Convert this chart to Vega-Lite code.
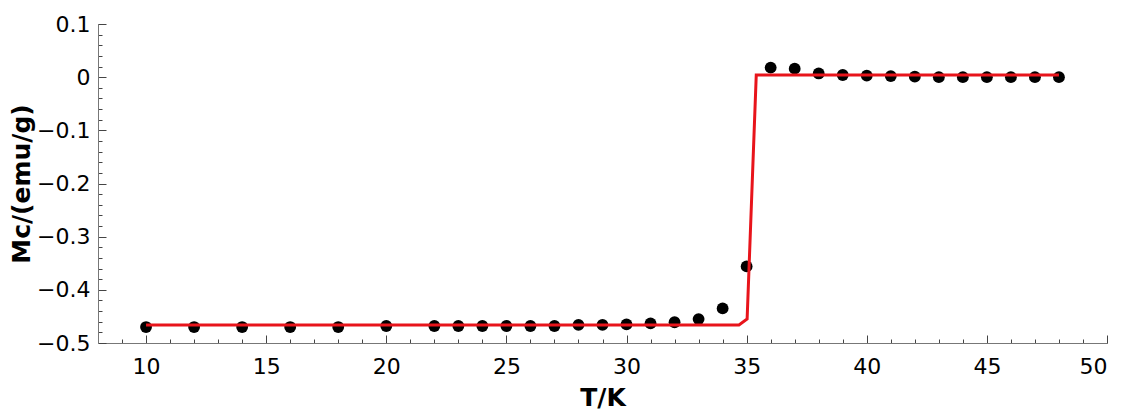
{
  "$schema": "https://vega.github.io/schema/vega-lite/v6.json",
  "width": 1009,
  "height": 319,
  "autosize": {"type": "none"},
  "padding": {"left": 98, "top": 24, "right": 19, "bottom": 67},
  "background": "white",
  "config": {
    "view": {"stroke": null},
    "font": "DejaVu Sans",
    "locale": {"number": {"decimal": ".", "thousands": ",", "grouping": [3], "currency": ["$", ""], "minus": "\u2212"}},
    "axis": {"grid": false, "domainColor": "#777777", "tickColor": "#444444", "labelColor": "black", "labelFont": "DejaVu Sans", "labelFontSize": 22, "titleFont": "DejaVu Sans", "titleFontSize": 25, "titleFontWeight": "bold", "titleColor": "black"}
  },
  "datasets": {
    "pts": [
      {"T": 10, "M": -0.470}, {"T": 12, "M": -0.470}, {"T": 14, "M": -0.470}, {"T": 16, "M": -0.470},
      {"T": 18, "M": -0.470}, {"T": 20, "M": -0.468}, {"T": 22, "M": -0.468}, {"T": 23, "M": -0.468},
      {"T": 24, "M": -0.468}, {"T": 25, "M": -0.468}, {"T": 26, "M": -0.468}, {"T": 27, "M": -0.468},
      {"T": 28, "M": -0.466}, {"T": 29, "M": -0.466}, {"T": 30, "M": -0.465}, {"T": 31, "M": -0.463},
      {"T": 32, "M": -0.461}, {"T": 33, "M": -0.455}, {"T": 34, "M": -0.435}, {"T": 35, "M": -0.356},
      {"T": 36, "M": 0.018}, {"T": 37, "M": 0.016}, {"T": 38, "M": 0.007}, {"T": 39, "M": 0.004},
      {"T": 40, "M": 0.003}, {"T": 41, "M": 0.002}, {"T": 42, "M": 0.001}, {"T": 43, "M": 0.0},
      {"T": 44, "M": 0.0}, {"T": 45, "M": 0.0}, {"T": 46, "M": 0.0}, {"T": 47, "M": 0.0}, {"T": 48, "M": 0.0}
    ],
    "fit": [
      {"T": 10, "M": -0.466}, {"T": 34.68, "M": -0.466}, {"T": 35.02, "M": -0.455},
      {"T": 35.4, "M": 0.004}, {"T": 48, "M": 0.004}
    ]
  },
  "resolve": {"axis": {"x": "independent", "y": "independent"}},
  "layer": [
    {
      "data": {"name": "pts"},
      "mark": {"type": "point", "filled": true, "color": "black", "opacity": 1, "size": 140},
      "encoding": {
        "x": {"field": "T", "type": "quantitative", "scale": {"domain": [8, 50], "nice": false, "zero": false},
          "axis": {"orient": "bottom", "values": [9,10,11,12,13,14,15,16,17,18,19,20,21,22,23,24,25,26,27,28,29,30,31,32,33,34,35,36,37,38,39,40,41,42,43,44,45,46,47,48,49,50], "labels": false, "title": null, "tickSize": -4, "domain": false}},
        "y": {"field": "M", "type": "quantitative", "scale": {"domain": [-0.5, 0.1], "nice": false, "zero": false},
          "axis": {"orient": "left", "values": [-0.48,-0.46,-0.44,-0.42,-0.4,-0.38,-0.36,-0.34,-0.32,-0.3,-0.28,-0.26,-0.24,-0.22,-0.2,-0.18,-0.16,-0.14,-0.12,-0.1,-0.08,-0.06,-0.04,-0.02,0,0.02,0.04,0.06,0.08,0.1], "labels": false, "title": null, "tickSize": -4, "domain": false}}
      }
    },
    {
      "data": {"name": "fit"},
      "mark": {"type": "line", "color": "#e8141b", "strokeWidth": 3},
      "encoding": {
        "x": {"field": "T", "type": "quantitative", "scale": {"domain": [8, 50], "nice": false, "zero": false},
          "axis": {"orient": "bottom", "values": [10, 15, 20, 25, 30, 35, 40, 45, 50], "title": "T/K", "tickSize": -8, "labelPadding": 21, "titlePadding": 8}},
        "y": {"field": "M", "type": "quantitative", "scale": {"domain": [-0.5, 0.1], "nice": false, "zero": false},
          "axis": {"orient": "left", "values": [-0.5, -0.4, -0.3, -0.2, -0.1, 0, 0.1], "format": "~f", "title": "Mc/(emu/g)", "tickSize": -8, "labelPadding": 16, "titlePadding": 2}}
      }
    }
  ]
}
